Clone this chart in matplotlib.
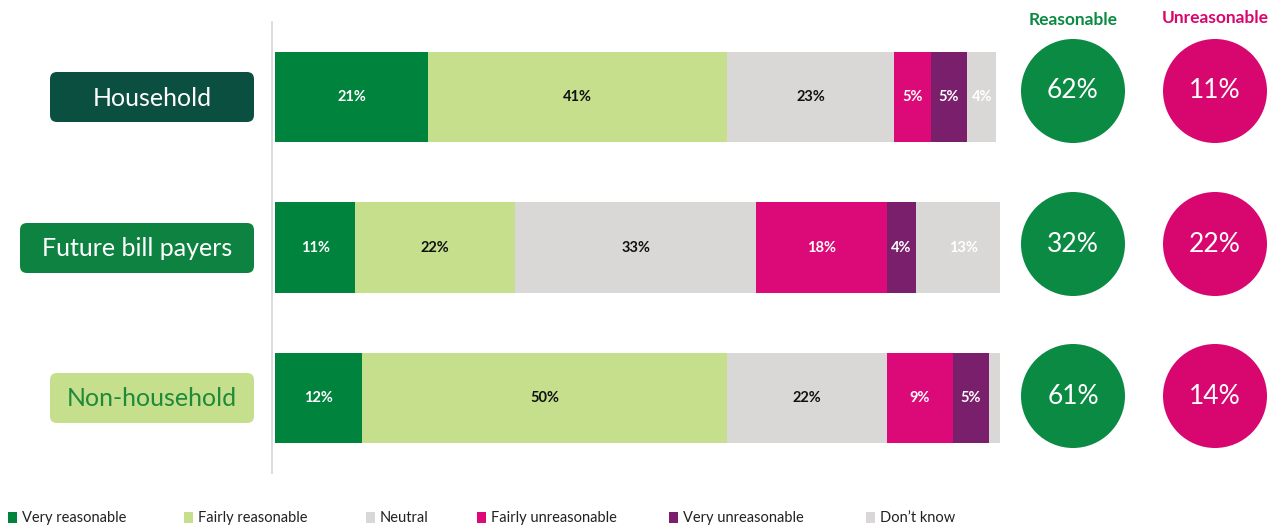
import matplotlib as mpl

mpl.use("Agg")
import matplotlib.pyplot as plt
import numpy as np
from matplotlib.patches import Circle, FancyBboxPatch, Rectangle

mpl.rcParams["font.family"] = ["Lato", "DejaVu Sans"]

# data
groups = ["Household", "Future bill payers", "Non-household"]
categories = ["Very reasonable", "Fairly reasonable", "Neutral",
              "Fairly unreasonable", "Very unreasonable", "Don\u2019t know"]
very_reasonable = [21, 11, 12]
fairly_reasonable = [41, 22, 50]
neutral = [23, 33, 22]
fairly_unreasonable = [5, 18, 9]
very_unreasonable = [5, 4, 5]
dont_know = [4, 13, 2]
reasonable_total = [62, 32, 61]
unreasonable_total = [11, 22, 14]

series = [very_reasonable, fairly_reasonable, neutral,
          fairly_unreasonable, very_unreasonable, dont_know]
colors = ["#00843D", "#C5DF8C", "#DAD8D6", "#DC0A78", "#7A1F6B", "#DAD8D6"]
text_colors = ["white", "#111111", "#111111", "white", "white", "white"]

GREEN = "#0A8A43"
MAGENTA = "#D8076F"

W, H = 1287, 530
fig = plt.figure(figsize=(W / 100, H / 100), dpi=100)
fig.patch.set_facecolor("white")

# bars
ax = fig.add_axes([275 / W, 1 - 473 / H, (1000 - 275) / W, 451 / H])
y = np.arange(len(groups))
left = np.zeros(len(groups))
for vals, col, tcol in zip(series, colors, text_colors):
    vals = np.array(vals, dtype=float)
    ax.barh(y, vals, left=left, height=0.6, color=col, edgecolor="none")
    for yi, l, v in zip(y, left, vals):
        if v >= 3:
            ax.text(l + v / 2, yi, f"{int(v)}%", ha="center", va="center",
                    fontsize=10.5, fontweight="bold", color=tcol)
    left += vals
ax.set_xlim(0, 99.5)
ax.set_ylim(2.5, -0.5)
ax.set_xticks([])
ax.set_yticks([])
for s in ["top", "right", "bottom"]:
    ax.spines[s].set_visible(False)
ax.spines["left"].set_color("#D5D5D5")
ax.spines["left"].set_linewidth(1.2)
ax.spines["left"].set_position(("outward", 2))

# overlay for labels, circles and legend (pixel coordinates)
ov = fig.add_axes([0, 0, 1, 1])
ov.set_xlim(0, W)
ov.set_ylim(H, 0)
ov.set_axis_off()

row_y = [97, 248, 398]
circle_y = [91, 244, 396]
boxes = [
    (50, "#0B4F41", "white"),
    (20, "#0E8341", "white"),
    (50, "#C5DF8C", "#1E8A3A"),
]
for (x0, fc, tc), name, cy in zip(boxes, groups, row_y):
    ov.add_patch(FancyBboxPatch((x0, cy - 25), 254 - x0, 50,
                                boxstyle="round,pad=0,rounding_size=7",
                                fc=fc, ec="none"))
    ov.text((x0 + 254) / 2, cy + 1, name, ha="center", va="center",
            fontsize=18, color=tc)

ov.text(1073, 20, "Reasonable", ha="center", va="center", fontsize=12.5,
        fontweight="bold", color=GREEN)
ov.text(1215, 18, "Unreasonable", ha="center", va="center", fontsize=12.5,
        fontweight="bold", color=MAGENTA)
for cy, r, u in zip(circle_y, reasonable_total, unreasonable_total):
    ov.add_patch(Circle((1073, cy), 52, fc=GREEN, ec="none"))
    ov.add_patch(Circle((1215, cy), 52, fc=MAGENTA, ec="none"))
    ov.text(1073, cy, f"{r}%", ha="center", va="center", fontsize=19,
            color="white")
    ov.text(1215, cy, f"{u}%", ha="center", va="center", fontsize=19,
            color="white")

# legend
leg_x = [8, 184, 366, 477, 669, 866]
for lx, cat, col in zip(leg_x, categories, colors):
    ov.add_patch(Rectangle((lx, 512), 9, 11, fc=col, ec="none"))
    ov.text(lx + 14, 518, cat, ha="left", va="center", fontsize=10.5,
            color="#222222")

fig.savefig("out.png", dpi=100, facecolor="white")
